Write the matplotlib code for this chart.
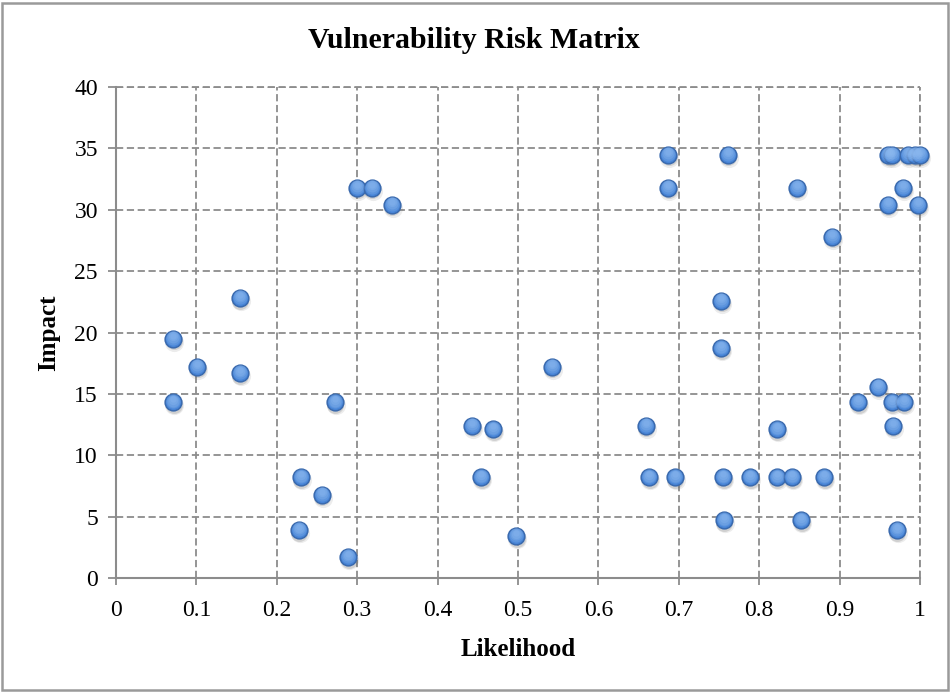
import matplotlib
matplotlib.use('Agg')
import matplotlib.pyplot as plt
import matplotlib.transforms as mtransforms
from matplotlib.patches import Rectangle

# values
likelihood = [0.071, 0.071, 0.101, 0.154, 0.154, 0.227, 0.230, 0.256, 0.272, 0.289,
              0.300, 0.318, 0.343, 0.443, 0.454, 0.469, 0.498, 0.542,
              0.659, 0.663, 0.687, 0.687, 0.695, 0.753, 0.753, 0.755, 0.756, 0.761,
              0.789, 0.822, 0.822, 0.841, 0.847, 0.852, 0.881, 0.891,
              0.923, 0.948, 0.960, 0.965, 0.960, 0.965, 0.966, 0.971, 0.979, 0.980,
              0.985, 0.994, 1.000, 0.998]
impact = [19.5, 14.3, 17.2, 22.8, 16.7, 3.9, 8.2, 6.8, 14.3, 1.7,
          31.8, 31.8, 30.4, 12.4, 8.2, 12.1, 3.4, 17.2,
          12.4, 8.2, 34.5, 31.8, 8.2, 22.6, 18.7, 8.2, 4.7, 34.5,
          8.2, 12.1, 8.2, 8.2, 31.8, 4.7, 8.2, 27.8,
          14.3, 15.6, 34.5, 34.5, 30.4, 14.3, 12.4, 3.9, 31.8, 14.3,
          34.5, 34.5, 34.5, 30.4]

x_ticks = [0, 0.1, 0.2, 0.3, 0.4, 0.5, 0.6, 0.7, 0.8, 0.9, 1]
x_labels = ['0', '0.1', '0.2', '0.3', '0.4', '0.5', '0.6', '0.7', '0.8', '0.9', '1']
y_ticks = [0, 5, 10, 15, 20, 25, 30, 35, 40]

plt.rcParams['font.family'] = ['Liberation Serif', 'DejaVu Serif']

fig = plt.figure(figsize=(9.51, 6.92), dpi=100)
ax = fig.add_axes([116 / 951, 1 - 578 / 692, 804 / 951, 491 / 692])

grey = '#8c8c8c'
dash = (0, (4, 2))
ax.set_xlim(0, 1)
ax.set_ylim(0, 40)
ax.set_xticks(x_ticks)
ax.set_xticklabels(x_labels)
ax.set_yticks(y_ticks)
ax.grid(True, color=grey, linestyle=dash, linewidth=1.3)
ax.set_axisbelow(True)
for side in ['top', 'right']:
    ax.spines[side].set_visible(False)
for side in ['left', 'bottom']:
    ax.spines[side].set_color(grey)
    ax.spines[side].set_linewidth(1.5)
ax.tick_params(axis='y', direction='out', length=6, width=1.3, color=grey,
               labelsize=17, pad=7)
ax.tick_params(axis='x', direction='out', length=5, width=1.3, color=grey,
               labelsize=17, pad=11)
# dashed frame along the top and right, like the gridlines
ax.axhline(40, color=grey, linestyle=dash, linewidth=1.3, clip_on=False)
ax.axvline(1, color=grey, linestyle=dash, linewidth=1.3, clip_on=False)

# markers: soft shadow, body, then a few layers to fake the gradient
def shifted(dx, dy):
    return ax.transData + mtransforms.ScaledTranslation(dx / 100, dy / 100, fig.dpi_scale_trans)

ax.scatter(likelihood, impact, s=190, color='#666666', alpha=0.12, linewidths=0,
           transform=shifted(1, -3), zorder=3, clip_on=False)
ax.scatter(likelihood, impact, s=150, color='#555555', alpha=0.18, linewidths=0,
           transform=shifted(0.5, -2.5), zorder=3, clip_on=False)
ax.scatter(likelihood, impact, s=145, color='#4784d6', edgecolors='#3a6aae',
           linewidths=1.1, zorder=4, clip_on=False)
for size, dy, alpha in [(105, 1.0, 0.3), (75, 1.8, 0.3), (45, 2.5, 0.3), (20, 3.0, 0.3)]:
    ax.scatter(likelihood, impact, s=size, color='#8ebaf0', alpha=alpha, linewidths=0,
               transform=shifted(0, dy), zorder=5, clip_on=False)

fig.text(474 / 951, 1 - 41 / 692, 'Vulnerability Risk Matrix', ha='center',
         va='center', fontsize=21.5, fontweight='bold')
ax.set_xlabel('Likelihood', fontsize=18, fontweight='bold', labelpad=12)
ax.set_ylabel('Impact', fontsize=18, fontweight='bold', labelpad=10)

fig.patches.append(Rectangle((2 / 951, 2 / 692), 946 / 951, 687 / 692,
                             transform=fig.transFigure, fill=False,
                             edgecolor='#9a9a9a', linewidth=1.8))

fig.savefig('out.png', dpi=100)
